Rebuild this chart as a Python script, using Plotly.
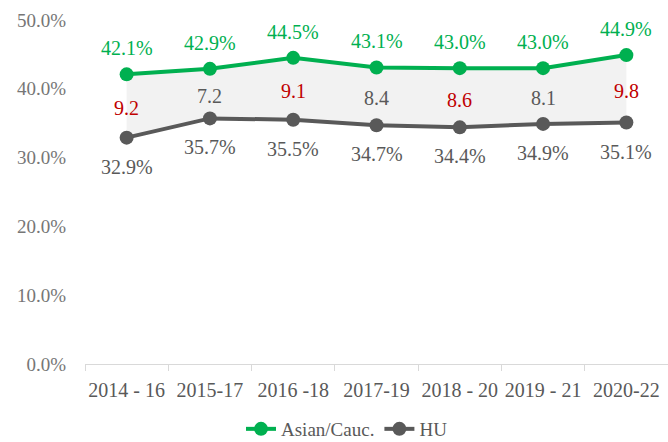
import plotly.graph_objects as go

periods = ["2014 - 16", "2015-17", "2016 -18", "2017-19", "2018 - 20", "2019 - 21", "2020-22"]
asian_cauc = [42.1, 42.9, 44.5, 43.1, 43.0, 43.0, 44.9]
hu = [32.9, 35.7, 35.5, 34.7, 34.4, 34.9, 35.1]
gap_labels = ["9.2", "7.2", "9.1", "8.4", "8.6", "8.1", "9.8"]
gap_is_high = [True, False, True, False, True, False, True]

GREEN = "#00b050"
GRAY = "#595959"
RED = "#c00000"
FONT = "Liberation Serif"

asian_frac = [v / 100 for v in asian_cauc]
hu_frac = [v / 100 for v in hu]

fig = go.Figure()

# shaded band between the two series
fig.add_trace(go.Scatter(x=periods, y=hu_frac, mode="lines", line=dict(width=0),
                         showlegend=False, hoverinfo="skip"))
fig.add_trace(go.Scatter(x=periods, y=asian_frac, mode="lines", line=dict(width=0),
                         fill="tonexty", fillcolor="#f2f2f2",
                         showlegend=False, hoverinfo="skip"))

fig.add_trace(go.Scatter(
    x=periods, y=asian_frac, name="Asian/Cauc.", mode="lines+markers",
    line=dict(color=GREEN, width=4), marker=dict(color=GREEN, size=14),
))
fig.add_trace(go.Scatter(
    x=periods, y=hu_frac, name="HU", mode="lines+markers",
    line=dict(color=GRAY, width=4), marker=dict(color=GRAY, size=14),
))

# value labels above / below each point, gap labels between the lines
for p, a, h, am, hm, g, hi in zip(periods, asian_cauc, hu, asian_frac, hu_frac,
                                  gap_labels, gap_is_high):
    fig.add_annotation(x=p, y=am, text=f"{a:.1f}%", showarrow=False, yshift=26,
                       font=dict(color=GREEN, size=20, family=FONT))
    fig.add_annotation(x=p, y=hm, text=f"{h:.1f}%", showarrow=False, yshift=-29,
                       font=dict(color=GRAY, size=20, family=FONT))
    fig.add_annotation(x=p, y=(am + hm) / 2, text=g, showarrow=False, yshift=-2,
                       font=dict(color=RED if hi else GRAY, size=20, family=FONT))

fig.update_layout(
    width=668, height=442,
    margin=dict(l=85, r=0, t=20, b=78, autoexpand=False),
    plot_bgcolor="white", paper_bgcolor="white",
    font=dict(family=FONT, color=GRAY, size=18),
    legend=dict(orientation="h", xref="container", x=347 / 668, xanchor="center",
                yref="container", y=(442 - 429) / 442, yanchor="middle",
                font=dict(size=19, color=GRAY, family=FONT), traceorder="normal"),
)
fig.update_xaxes(
    type="category", showgrid=False, showline=True, linecolor="#d9d9d9", linewidth=1,
    ticks="outside", tickson="boundaries", ticklen=6, tickcolor="#d9d9d9",
    tickfont=dict(size=20, color=GRAY, family=FONT), automargin=False,
    range=[-0.5, 6.5], ticklabelstandoff=8, tickangle=0,
)
fig.update_yaxes(
    range=[0, 0.5], dtick=0.1, tickformat=".1%", showgrid=False, zeroline=False,
    showline=False, ticklabelstandoff=18, automargin=False,
    tickfont=dict(size=19, color="#767676", family=FONT),
)

fig.write_html("out.html")
